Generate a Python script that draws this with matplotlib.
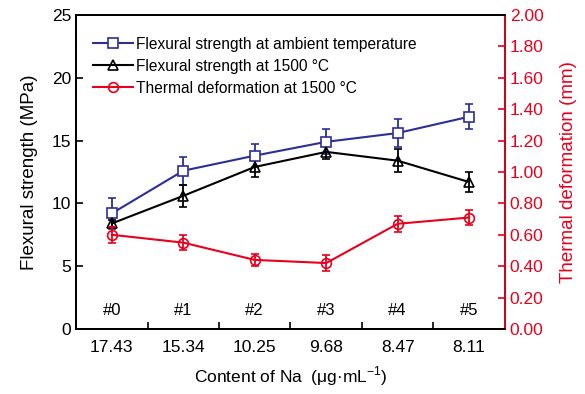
import matplotlib.pyplot as plt
from matplotlib.lines import Line2D
from matplotlib.ticker import FormatStrFormatter, MultipleLocator
import matplotlib.transforms as mtransforms

plt.rcParams['font.family'] = ['Liberation Sans', 'DejaVu Sans']

samples = ['#0', '#1', '#2', '#3', '#4', '#5']
na_content = ['17.43', '15.34', '10.25', '9.68', '8.47', '8.11']

fs_ambient = [9.2, 12.6, 13.8, 14.9, 15.6, 16.9]
fs_ambient_err = [1.2, 1.1, 0.9, 1.0, 1.1, 1.0]
fs_1500 = [8.4, 10.6, 12.9, 14.1, 13.4, 11.7]
fs_1500_err = [0.3, 0.9, 0.8, 0.6, 0.9, 0.8]
deform = [0.60, 0.55, 0.44, 0.42, 0.67, 0.71]
deform_err = [0.05, 0.05, 0.04, 0.05, 0.05, 0.05]

blue = '#2b2f96'
red = '#e8001c'

fig = plt.figure(figsize=(5.85, 3.94), dpi=100)
ax = fig.add_axes([0.13, 0.165, 0.733, 0.797])
x = list(range(len(samples)))

style = dict(mew=1.2, lw=1.5, capsize=3, elinewidth=1.3)
ax.errorbar(x, fs_ambient, yerr=fs_ambient_err, color=blue, marker='s', ms=6.5,
            mfc='white', **style)
ax.errorbar(x, fs_1500, yerr=fs_1500_err, color='black', marker='^', ms=7,
            mfc='none', **style)

ax2 = ax.twinx()
ax2.errorbar(x, deform, yerr=deform_err, color=red, marker='o', ms=7,
             mfc='none', **style)

ax.set_xlim(-0.5, 5.5)
ax.set_ylim(0, 25)
ax2.set_ylim(0, 2.0)
ax.yaxis.set_major_locator(MultipleLocator(5))
ax2.yaxis.set_major_locator(MultipleLocator(0.2))
ax2.yaxis.set_major_formatter(FormatStrFormatter('%.2f'))

ax.set_xticks(x)
ax.set_xticklabels(na_content, fontsize=12.5)
ax.set_xticks([i + 0.5 for i in range(5)], minor=True)
ax.tick_params(axis='x', which='major', length=0, pad=8)
ax.tick_params(axis='x', which='minor', direction='in', length=5, width=1.2)
ax.tick_params(axis='y', direction='in', length=5, width=1.2, labelsize=12.5)
ax2.tick_params(axis='y', direction='in', length=5, width=1.2, labelsize=12.5,
                colors=red)
for s in ax.spines.values():
    s.set_linewidth(1.3)
for s in ax2.spines.values():
    s.set_linewidth(1.3)
ax2.spines['right'].set_color(red)

trans = mtransforms.blended_transform_factory(ax.transData, ax.transAxes)
for i, s in enumerate(samples):
    ax.text(i, 0.035, s, transform=trans, ha='center', va='bottom', fontsize=12)

ax.set_ylabel('Flexural strength (MPa)', fontsize=13.5, labelpad=10)
ax2.set_ylabel('Thermal deformation (mm)', fontsize=13.5, color=red, labelpad=12)
ax.set_xlabel('Content of Na  (\u03bcg\u00b7mL$^{\\mathregular{-1}}$)', fontsize=12.5,
              labelpad=7)

handles = [
    Line2D([], [], color=blue, marker='s', ms=6.5, mfc='white', mew=1.2, lw=1.5),
    Line2D([], [], color='black', marker='^', ms=7, mfc='none', mew=1.2, lw=1.5),
    Line2D([], [], color=red, marker='o', ms=7, mfc='none', mew=1.2, lw=1.5),
]
labels = ['Flexural strength at ambient temperature',
          'Flexural strength at 1500 \u00b0C',
          'Thermal deformation at 1500 \u00b0C']
ax.legend(handles, labels, loc='upper left', frameon=False, fontsize=11.2,
          handlelength=2.6, handletextpad=0.2, borderaxespad=0.4,
          labelspacing=0.45, bbox_to_anchor=(0.01, 0.97))

fig.savefig('out.png', dpi=100)
